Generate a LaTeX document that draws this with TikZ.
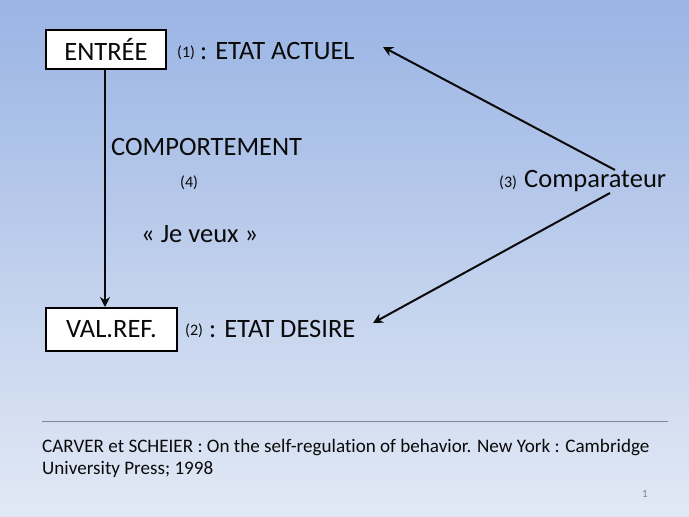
\documentclass[tikz,border=0pt]{standalone}
\usepackage{fontspec}
\setmainfont{Carlito}[Ligatures=NoCommon]
\usetikzlibrary{arrows.meta,calc}
\definecolor{bgtop}{HTML}{9AB4E4}
\definecolor{bgbot}{HTML}{E2E9F5}
\definecolor{ink}{HTML}{0A0A0A}
\definecolor{rule}{HTML}{7D8799}
\tikzset{
  boxnode/.style={draw=black,line width=2pt,fill=white,inner sep=0pt,font=\fontsize{26.5}{30}\selectfont,text=ink},
  bigtxt/.style={inner sep=0pt,anchor=west,font=\fontsize{26.5}{30}\selectfont,text=ink},
  smalltxt/.style={inner sep=0pt,anchor=west,font=\fontsize{16}{19}\selectfont,text=ink},
  reftxt/.style={inner sep=0pt,anchor=north west,align=left,font=\fontsize{19.1}{22.5}\selectfont,text=ink},
  arr/.style={line width=2pt,draw=ink,-{Stealth[length=10pt,width=10pt]}}
}
\begin{document}
\begin{tikzpicture}[x=1pt,y=-1pt]
\shade[top color=bgtop,bottom color=bgbot] (0,0) rectangle (689,517);
\useasboundingbox (0,0) rectangle (689,517);
\node[boxnode,minimum width=120pt,minimum height=39pt] (entree) at (106,49.5) {ENTRÉE};
\node[boxnode,minimum width=131pt,minimum height=43pt] (valref) at (111.5,329.5) {VAL.REF.};
\node[smalltxt] (n1) at (177,53) {(1)};
\node[bigtxt] (actuel) at (200,51) {: ETAT ACTUEL};
\node[smalltxt] (n2) at (185,331) {(2)};
\node[bigtxt] (desire) at (209,329) {: ETAT DESIRE};
\node[bigtxt] (comport) at (111,147) {COMPORTEMENT};
\node[smalltxt] (n4) at (180,183) {(4)};
\node[bigtxt] (veux) at (141,234) {« Je veux »};
\node[smalltxt] (n3) at (499,183) {(3)};
\node[bigtxt] (comp) at (524,181) {Comparateur};
\coordinate (c1) at (615,170);
\coordinate (c2) at (610,193);
\coordinate (e1) at (383,47);
\coordinate (e2) at (373,323);
\draw[arr] (c1) -- (e1);
\draw[arr] (c2) -- (e2);
\coordinate (vtop) at (105,69);
\coordinate (vbot) at (vtop |- valref.north);
\draw[arr] (vtop) -- (vbot);
\coordinate (rl) at (42,421);
\coordinate (rr) at (668,421);
\draw[rule,line width=1pt] (rl) -- (rr);
\node[reftxt] (cite) at (42,439) {CARVER et SCHEIER : On the self-regulation of behavior. New York : Cambridge\\University Press; 1998};
\node[inner sep=0pt,font=\fontsize{11}{13}\selectfont,text=gray] (page) at (645,494) {1};
\end{tikzpicture}
\end{document}
